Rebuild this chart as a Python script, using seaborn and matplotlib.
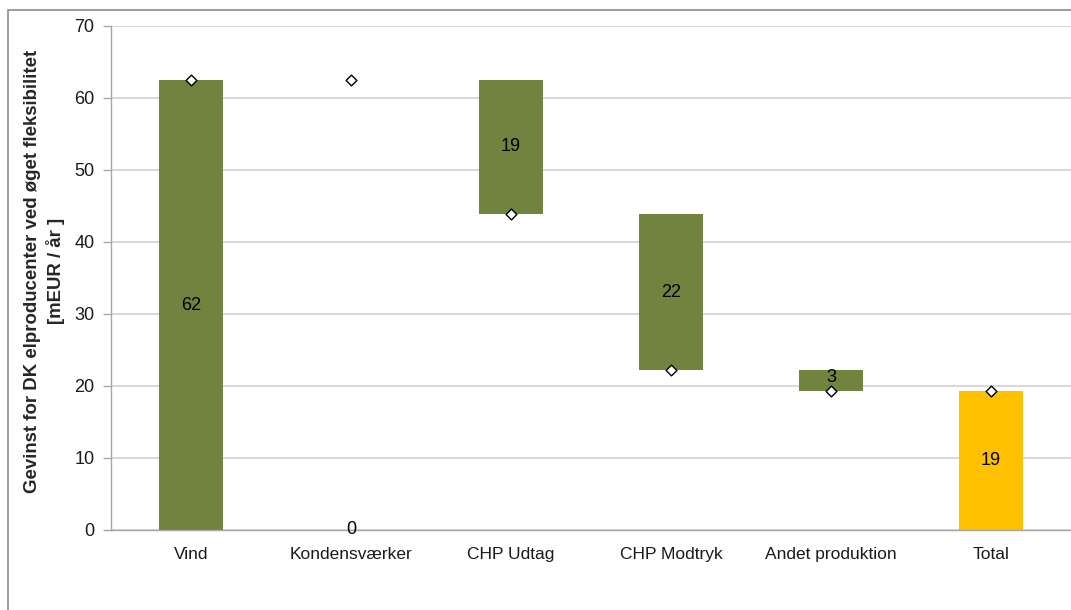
import numpy as np
import pandas as pd
import matplotlib
matplotlib.use("Agg")
import matplotlib.pyplot as plt
from matplotlib.patches import Rectangle
import seaborn as sns

# waterfall data (mEUR / år)
categories = ["Vind", "Kondensværker", "CHP Udtag", "CHP Modtryk", "Andet produktion", "Total"]
changes = [62.5, 0.0, -18.6, -21.7, -2.9]
total = 19.3
value_labels = ["62", "0", "19", "22", "3", "19"]
bar_colors = ["#70843F", "#70843F", "#70843F", "#70843F", "#70843F", "#FFC000"]
yticks = [0, 10, 20, 30, 40, 50, 60, 70]

# running level after each step -> bar bottoms/heights
levels = np.cumsum(changes)
starts = np.concatenate([[0.0], levels[:-1]])
bottoms = list(np.minimum(starts, levels)) + [0.0]
heights = list(np.abs(changes)) + [total]
markers = list(levels) + [total]

df = pd.DataFrame({"cat": categories, "height": heights, "bottom": bottoms, "marker": markers})

sns.set_style("white")
plt.rcParams["font.family"] = ["Liberation Sans", "DejaVu Sans"]

fig = plt.figure(figsize=(10.71, 6.10), dpi=100)
ax = fig.add_axes([111 / 1071, 1 - 530 / 610, 960 / 1071, 504 / 610])

sns.barplot(data=df, x="cat", y="height", bottom=df["bottom"].values, width=0.4,
            color=bar_colors[0], saturation=1, ax=ax, zorder=2)
for patch, col in zip(ax.patches, bar_colors):
    patch.set_facecolor(col)
    patch.set_edgecolor("none")

sns.scatterplot(data=df, x="cat", y="marker", marker="D", s=30, color="white",
                edgecolor="black", linewidth=1, ax=ax, zorder=4, legend=False)

for i, (lab, b, h) in enumerate(zip(value_labels, bottoms, heights)):
    y = b + h / 2 if h > 0 else 0
    if lab == "3":
        y += 0.5
    ax.text(i, y, lab, ha="center", va="center", fontsize=13, color="black", zorder=5)

ax.set_xlim(-0.5, 5.5)
ax.set_ylim(0, 70)
ax.set_yticks(yticks)
ax.grid(axis="y", color="#D9D9D9", linewidth=1.5, zorder=0)
ax.set_axisbelow(True)

ax.set_xticks(np.arange(-0.5, 6.0, 1.0), minor=True)
ax.tick_params(axis="x", which="major", length=0, pad=12, labelsize=12.5, colors="#1a1a1a")
ax.tick_params(axis="x", which="minor", length=5, color="#A6A6A6", width=1)
ax.tick_params(axis="y", length=6, color="#A6A6A6", width=1, labelsize=13, pad=6,
               left=True, colors="#1a1a1a")
ax.set_xlabel("")
ax.set_ylabel("Gevinst for DK elproducenter ved øget fleksibilitet\n[mEUR / år ]",
              fontsize=13.4, fontweight="bold", linespacing=1.35)
ax.yaxis.set_label_coords(-46 / 960, 0.514)

for side in ["top", "right"]:
    ax.spines[side].set_visible(False)
for side in ["left", "bottom"]:
    ax.spines[side].set_color("#A6A6A6")
    ax.spines[side].set_linewidth(1)

# outer chart frame
fig.add_artist(Rectangle((8 / 1071, -0.1), 1.2, 1.1 - 10 / 610, transform=fig.transFigure,
                         fill=False, edgecolor="#8C8C8C", linewidth=1.2))

fig.savefig("out.png", dpi=100)
